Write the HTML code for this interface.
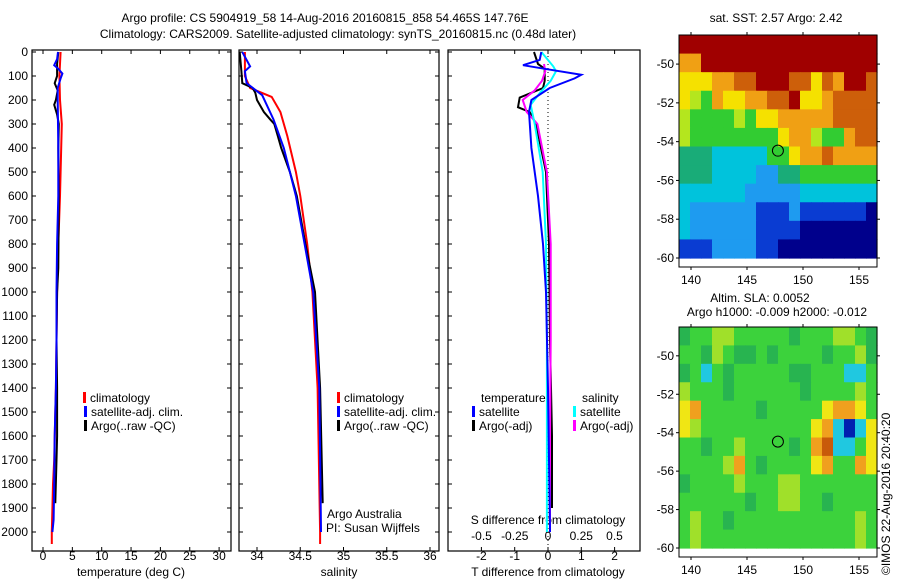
<!DOCTYPE html>
<html><head><meta charset="utf-8"><style>
body{margin:0;background:#fff;}
svg text{font-family:"Liberation Sans","DejaVu Sans",sans-serif;font-size:12px;fill:#000;}
</style></head><body>
<svg id="s" width="900" height="580" xmlns="http://www.w3.org/2000/svg"></svg>
<script>
// ---------- data ----------
const tClimD=[0,100,200,300,400,500,600,800,1000,1200,1400,1500,1700,1800,1900,2000,2050];
const tClimV=[3.0,2.8,2.9,3.2,3.1,3.0,2.9,2.6,2.4,2.3,2.2,2.1,1.9,1.7,1.6,1.5,1.5];
const tSatD=[0,30,55,70,90,110,150,200,400,600,800,1000,1200,1400,1600,1800,1950,2000];
const tSatV=[2.55,2.4,1.9,2.6,3.3,3.0,2.5,2.5,2.6,2.6,2.4,2.3,2.3,2.2,2.0,1.9,1.8,1.6];
const tArgD=[0,50,100,130,160,200,220,260,300,400,600,900,1000,1200,1400,1600,1700,1880];
const tArgV=[2.6,2.4,2.4,2.0,2.5,2.2,1.9,2.4,2.7,2.6,2.7,2.6,2.4,2.3,2.4,2.4,2.3,2.1];
const sClimD=[0,100,150,187,250,350,500,600,800,1000,1400,2000,2050];
const sClimV=[33.86,33.86,33.92,34.17,34.27,34.35,34.45,34.5,34.58,34.64,34.70,34.73,34.73];
const sSatD=[0,60,80,130,180,280,400,500,600,800,1000,1400,2000];
const sSatV=[33.83,33.92,33.86,33.88,34.06,34.19,34.31,34.38,34.45,34.55,34.65,34.72,34.74];
const sArgD=[0,80,130,150,170,200,250,280,300,350,400,500,600,800,1000,1400,1880];
const sArgV=[33.8,33.82,33.83,33.95,33.98,34.0,34.08,34.15,34.2,34.24,34.28,34.38,34.46,34.56,34.67,34.73,34.76];
const dTsD=[0,33,55,70,95,110,150,200,250,400,600,800,1000,1400,2000];
const dTsV=[-0.2,-0.25,-0.75,-0.1,1.0,0.8,0.05,-0.5,-0.57,-0.5,-0.3,-0.15,-0.06,0,0.06];
const dSsD=[0,60,80,120,170,220,300,500,800,1200,2000];
const dSsV=[-0.05,0.04,0.06,0.02,-0.06,-0.13,-0.1,-0.04,-0.015,-0.008,-0.008];
const dTaD=[0,50,70,120,150,190,230,250,300,500,800,1200,1600,1900];
const dTaV=[-0.42,-0.3,-0.1,-0.1,-0.15,-0.85,-0.9,-0.55,-0.36,-0.06,0.03,0.06,0.12,0.12];
const dSaD=[50,80,120,160,200,250,300,500,800,1200,1600,2000];
const dSaV=[-0.03,-0.02,-0.045,-0.1,-0.19,-0.16,-0.08,-0.008,0.02,0.02,0.015,0.015];
const depthTicks=[0,100,200,300,400,500,600,700,800,900,1000,1100,1200,1300,1400,1500,1600,1700,1800,1900,2000];
const tTicks=[0,5,10,15,20,25,30];
const sTicks=[34,34.5,35,35.5,36];
const sTickLbl=["34","34.5","35","35.5","36"];
const dTTicks=[-2,-1,0,1,2];
const dSTicks=[-0.5,-0.25,0,0.25,0.5];
const dSTickLbl=["-0.5","-0.25","0","0.25","0.5"];
const latTicks=[-50,-52,-54,-56,-58,-60];
const lonTicks=[140,145,150,155];
const sstGrid=["AAAAAAAAAAAAAAAAAA","88AAAAAAAAAAAAAAAA","7778899AAA99798AA9","7658778899A7789999","655556577888889999","655555555788655899","444333335578898888","444333322445555555","333333222223333333","322222211121111110","322222211110000000","111222211000000000"];
const slaGrid=["455665555545556654","554654454555545564","453545555544555335","655545555554555565","785555545555578875","765555555555783037","554556555545893357","555568545555785587","455556555665555555","555555455665545555","565545555555555565","565555555555555565"];
// ---------- helpers ----------
const S=document.getElementById('s');const NS='http://www.w3.org/2000/svg';
function mk(t,a,p){const e=document.createElementNS(NS,t);for(const k in a)e.setAttribute(k,a[k]);(p||S).appendChild(e);return e;}
function txt(x,y,s,anchor,extra){const e=mk('text',Object.assign({x:x,y:y,'text-anchor':anchor||'start'},extra||{}));e.textContent=s;return e;}
const yD=d=>52+0.24*d;
function panel(x0,x1,name){const r=mk('rect',{x:x0,y:50,width:x1-x0,height:501,fill:'none',stroke:'#000','stroke-width':1.2});}
function line(D,V,fx,col,name,w){const pts=D.map((d,i)=>fx(V[i]).toFixed(1)+','+yD(d).toFixed(1)).join(' ');const p=mk('polyline',{points:pts,fill:'none',stroke:col,'stroke-width':w||2});}
function vtick(x){mk('line',{x1:x,y1:50,x2:x,y2:54,stroke:'#000'});mk('line',{x1:x,y1:551,x2:x,y2:547,stroke:'#000'});}
// titles
let t=txt(325,22,'Argo profile: CS 5904919_58 14-Aug-2016 20160815_858 54.465S 147.76E','middle',{'font-size':13});
t=txt(338,38,'Climatology: CARS2009. Satellite-adjusted climatology: synTS_20160815.nc (0.48d later)','middle',{'font-size':13});
// panel 1 temperature
const xT=v=>43+5.87*v;
panel(32,231,'temperature-panel');
depthTicks.forEach(d=>{const y=yD(d);txt(28,y+4,String(d),'end');[[32,36],[231,227],[239,243],[439,435],[448,452]].forEach(a=>mk('line',{x1:a[0],y1:y,x2:a[1],y2:y,stroke:'#000'}));});
tTicks.forEach(v=>{vtick(xT(v));txt(xT(v),560,String(v),'middle');});
t=txt(131,576,'temperature (deg C)','middle');
line(tClimD,tClimV,xT,'#f00','temp-climatology-line');
line(tArgD,tArgV,xT,'#000','temp-argo-line');
line(tSatD,tSatV,xT,'#00f','temp-satellite-line');
// panel 2 salinity
const xS=v=>257+86.5*(v-34);
panel(239,439,'salinity-panel');
sTicks.forEach((v,i)=>{vtick(xS(v));txt(xS(v),560,sTickLbl[i],'middle');});
t=txt(339,576,'salinity','middle');
line(sClimD,sClimV,xS,'#f00','sal-climatology-line');
line(sArgD,sArgV,xS,'#000','sal-argo-line');
line(sSatD,sSatV,xS,'#00f','sal-satellite-line');
// legends
function leg(x,y,col,s,name){mk('rect',{x:x,y:y-10,width:3,height:11,fill:col});const e=txt(x+7,y,s);}
[[83,'climatology','#f00'],[84,'satellite-adj. clim.','#00f'],[84,'Argo(..raw -QC)','#000']].forEach((a,i)=>leg(a[0],402+i*14,a[2],a[1],'temp-legend-entry'));
[[337,'climatology','#f00'],[337,'satellite-adj. clim.','#00f'],[337,'Argo(..raw -QC)','#000']].forEach((a,i)=>leg(a[0],402+i*14,a[2],a[1],'sal-legend-entry'));
txt(327,518,'Argo Australia');txt(326,532,'PI: Susan Wijffels');
// panel 3 differences
const xDT=v=>548+33.3*v, xDS=v=>548+133*v;
panel(448,640,'difference-panel');
mk('line',{x1:548,y1:52,x2:548,y2:551,stroke:'#000','stroke-dasharray':'1,3'});
dTTicks.forEach(v=>{vtick(xDT(v));txt(xDT(v),560,String(v),'middle');});
dSTicks.forEach((v,i)=>{txt(xDS(v),540,dSTickLbl[i],'middle');});
txt(548,524,'S difference from climatology','middle');
t=txt(548,576,'T difference from climatology','middle');
line(dTaD,dTaV,xDT,'#000','tdiff-argo-line');
line(dSaD,dSaV,xDS,'#f0f','sdiff-argo-line');
line(dSsD,dSsV,xDS,'#0ff','sdiff-satellite-line');
line(dTsD,dTsV,xDT,'#00f','tdiff-satellite-line');
txt(481,402,'temperature');txt(582,402,'salinity');
leg(472,416,'#00f','satellite','tdiff-legend-satellite');leg(472,430,'#000','Argo(-adj)','tdiff-legend-argo');
leg(573,416,'#0ff','satellite','sdiff-legend-satellite');leg(573,430,'#f0f','Argo(-adj)','sdiff-legend-argo');
// maps
const pal={'0':'#00008c','1':'#0a3cd2','2':'#1e9bf0','3':'#00c3dc','4':'#19ac78','5':'#32cc32','6':'#b4e61e','7':'#f5e100','8':'#f0a014','9':'#cd5f0a','A':'#a00000'};
const slaPal={'0':'#0020b0','1':'#1050d0','2':'#2090e0','3':'#20c8e0','4':'#28b450','5':'#3cd23c','6':'#a0e02a','7':'#f0e614','8':'#f0a01e','9':'#c85a0a'};
function map(grid,P,top,bot,latTop,name){
 const x0=679,x1=877,lon=v=>691+11.2*(v-140);
 const lat=v=>top+(bot-top)*(v-latTop)/(-60-latTop);
 const g=mk('g',{});
 const nr=grid.length,nc=grid[0].length,cw=(x1-x0)/nc,ch=(bot-top)/nr;
 grid.forEach((row,r)=>{for(let c=0;c<nc;c++)mk('rect',{x:x0+c*cw,y:top+r*ch,width:cw+0.6,height:ch+0.6,fill:P[row[c]]},g);});
 const fb=bot+9;
 mk('rect',{x:x0,y:top,width:x1-x0,height:fb-top,fill:'none',stroke:'#000'});
 latTicks.forEach(v=>{const y=lat(v);mk('line',{x1:x0,y1:y,x2:x0-3,y2:y,stroke:'#000'});mk('line',{x1:x1,y1:y,x2:x1+3,y2:y,stroke:'#000'});txt(674,y+4,String(v),'end');});
 lonTicks.forEach(v=>{const x=lon(v);mk('line',{x1:x,y1:top,x2:x,y2:top-3,stroke:'#000'});mk('line',{x1:x,y1:fb,x2:x,y2:fb+3,stroke:'#000'});txt(x,fb+17,String(v),'middle');});
 mk('circle',{cx:lon(147.76),cy:lat(-54.465),r:5.5,fill:'none',stroke:'#000','stroke-width':1});
}
map(sstGrid,pal,35,258,-48.5,'sst-map');
map(slaGrid,slaPal,327,548,-48.5,'sla-map');
txt(776,22,'sat. SST: 2.57 Argo: 2.42','middle');
txt(760,302,'Altim. SLA: 0.0052','middle');
txt(777,316,'Argo h1000: -0.009 h2000: -0.012','middle');
txt(0,0,'©IMOS 22-Aug-2016 20:40:20','start',{transform:'translate(890,575) rotate(-90)'});
</script>
</body></html>
